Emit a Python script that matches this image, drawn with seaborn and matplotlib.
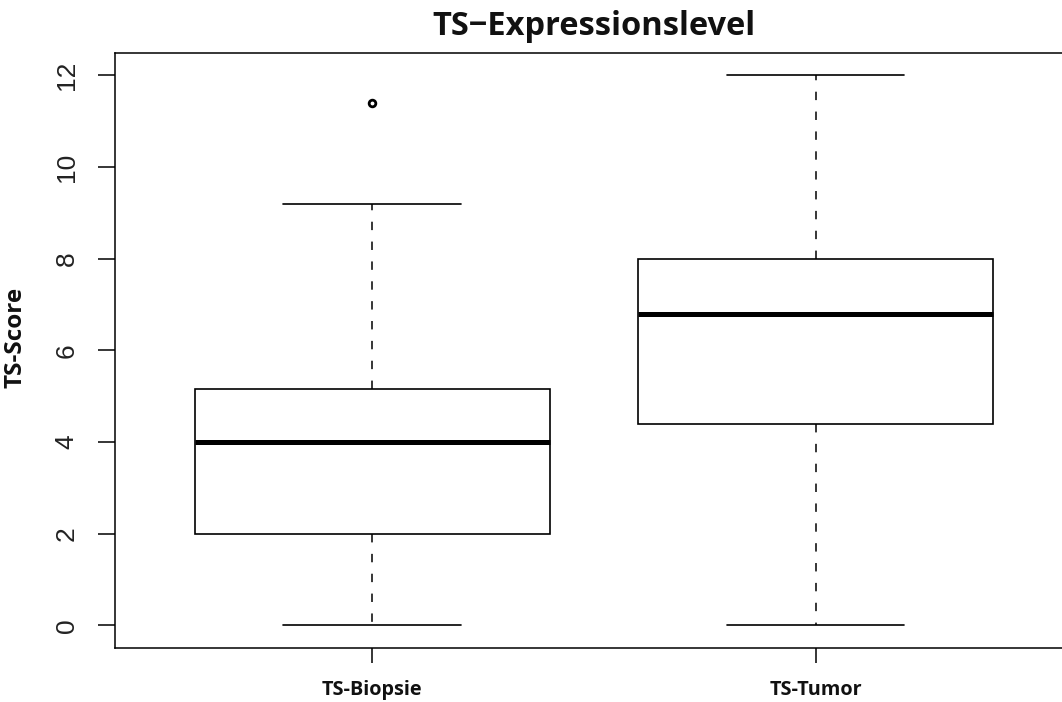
import matplotlib
matplotlib.use("Agg")
import matplotlib.pyplot as plt
import pandas as pd
import seaborn as sns

# Groups and their five-number summaries
# (lower whisker, first quartile, median, third quartile, upper whisker)
groups = ["TS-Biopsie", "TS-Tumor"]
biopsie_stats = [0.0, 2.0, 4.0, 5.15, 9.2]
tumor_stats = [0.0, 4.4, 6.8, 8.0, 12.0]

# Points beyond the whiskers
outlier_groups = ["TS-Biopsie"]
outlier_values = [11.4]

title_text = "TS\u2212Expressionslevel"
y_label = "TS-Score"
y_ticks = [0, 2, 4, 6, 8, 10, 12]

summary = pd.DataFrame({
    "group": [groups[0]] * len(biopsie_stats) + [groups[1]] * len(tumor_stats),
    "score": biopsie_stats + tumor_stats,
})
outliers = pd.DataFrame({"group": outlier_groups, "score": outlier_values})

sns.set_theme(style="white")
plt.rcParams["font.family"] = ["Liberation Sans", "DejaVu Sans"]

fig = plt.figure(figsize=(10.62, 7.02), dpi=100)
ax = fig.add_axes([0.108, 0.0765, 0.9024, 0.8476])

# whis=(0, 100) puts the whisker ends on the lowest and highest summary value,
# so the boxes follow the summaries exactly
sns.boxplot(
    data=summary, x="group", y="score", order=groups,
    whis=(0, 100), width=0.8, color="white", linecolor="black",
    linewidth=1.2, showfliers=False, ax=ax,
    medianprops=dict(linewidth=3.6, color="black", solid_capstyle="butt"),
    whiskerprops=dict(linestyle=(0, (5.5, 7.5)), linewidth=1.1),
    capprops=dict(linewidth=1.2),
)
sns.stripplot(
    data=outliers, x="group", y="score", order=groups, jitter=False,
    marker="o", size=4.8, color="white", edgecolor="black", linewidth=2.0,
    ax=ax, zorder=5,
)

ax.set_xlim(-0.58, 1.58)
ax.set_ylim(-0.5, 12.48)
ax.set_yticks(y_ticks)
ax.set_yticklabels([str(t) for t in y_ticks])

for side in ["left", "bottom", "top", "right"]:
    ax.spines[side].set_visible(True)
    ax.spines[side].set_color("black")
    ax.spines[side].set_linewidth(1.1)

ax.tick_params(axis="y", which="major", left=True, length=12, width=1.1,
               color="black", pad=14, labelsize=19, labelrotation=90,
               labelcolor="#222222")
ax.tick_params(axis="x", which="major", bottom=True, length=11, width=1.1,
               color="black", pad=12)
for lab in ax.get_yticklabels():
    lab.set_verticalalignment("center")
for lab in ax.get_xticklabels():
    lab.set_fontfamily(["Open Sans", "DejaVu Sans"])
    lab.set_fontweight("bold")
    lab.set_fontsize(14.3)
    lab.set_color("#111111")

ax.set_xlabel("")
ax.set_ylabel(y_label, fontfamily=["Open Sans", "DejaVu Sans"],
              fontweight="bold", fontsize=17.5, color="#111111")
ax.yaxis.set_label_coords(-0.0905, 0.523)

ax.set_title(title_text, fontfamily=["Open Sans", "DejaVu Sans"],
             fontweight="bold", fontsize=23.5, color="#111111", pad=13)

fig.savefig("out.png", dpi=100, facecolor="white")
